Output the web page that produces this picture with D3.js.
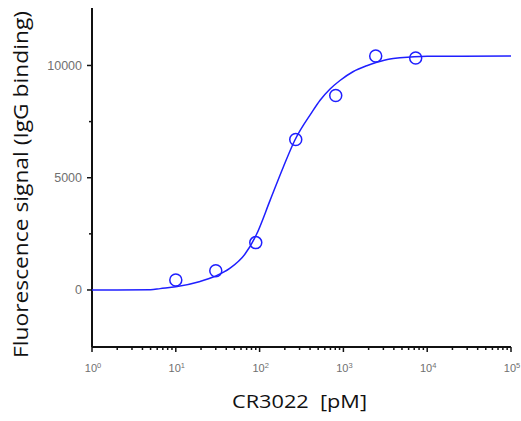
<!DOCTYPE html>
<html>
<head>
<meta charset="utf-8">
<script src="https://cdn.jsdelivr.net/npm/d3@7"></script>
<style>
  body { margin: 0; background: #fff; }
  .tick-label { font-family: "Liberation Sans", Arial, sans-serif; fill: #707070; }
  .axis-title { font-family: "Open Sans", sans-serif; fill: #111; white-space: pre; }
</style>
</head>
<body>
<div id="chart"></div>
<script>
// Measured points (concentration in pM, signal)
const concentrations = [10, 30, 90, 270, 810, 2430, 7290];
const signals = [445, 860, 2110, 6700, 8660, 10420, 10330];

// Fitted curve
const curveX = [1, 5, 6.5, 10, 19, 29, 44, 67, 92, 133, 192, 264, 418, 527, 693, 910, 1300, 1900, 2500, 3600, 4730, 7000, 10000, 100000];
const curveY = [0, 10, 60, 140, 370, 600, 960, 1600, 2480, 3980, 5480, 6680, 7900, 8450, 8950, 9330, 9720, 9990, 10140, 10290, 10340, 10390, 10410, 10420];

const xDecades = [0, 1, 2, 3, 4, 5];
const yMajorTicks = [0, 5000, 10000];
const yMinorTicks = [2500, 7500];

const W = 521, H = 421;
const plot = {left: 92, right: 511, top: 8, bottom: 347};
const blue = "#1f1fff";

const svg = d3.select("#chart").append("svg")
  .attr("width", W)
  .attr("height", H);

// Scales
const x = d3.scaleLog()
  .domain([1, 100000])
  .range([plot.left, plot.right]);

const y = d3.scaleLinear()
  .domain([-2540, 12560])
  .range([plot.bottom, plot.top]);

// Minor x ticks (2..9 in each decade)
const xMinor = [];
xDecades.slice(0, -1).forEach(d => {
  for (let k = 2; k <= 9; k++) xMinor.push(k * Math.pow(10, d));
});

// X axis
const xAxis = svg.append("g").attr("transform", `translate(0,${plot.bottom})`);
xAxis.append("line")
  .attr("x1", plot.left).attr("x2", plot.right)
  .attr("stroke", "#111").attr("stroke-width", 2);
xAxis.selectAll(".minor")
  .data(xMinor)
  .enter().append("line")
    .attr("x1", d => x(d)).attr("x2", d => x(d))
    .attr("y1", 0).attr("y2", 3)
    .attr("stroke", "#111").attr("stroke-width", 1.5);
xAxis.selectAll(".major")
  .data(xDecades)
  .enter().append("line")
    .attr("x1", d => x(Math.pow(10, d))).attr("x2", d => x(Math.pow(10, d)))
    .attr("y1", 0).attr("y2", 5)
    .attr("stroke", "#111").attr("stroke-width", 1.5);
const xLabels = xAxis.selectAll(".xl")
  .data(xDecades)
  .enter().append("text")
    .attr("class", "tick-label")
    .attr("x", d => x(Math.pow(10, d)) + 1)
    .attr("y", 25)
    .attr("text-anchor", "middle")
    .style("font-size", "11px");
xLabels.append("tspan").text("10");
xLabels.append("tspan")
  .attr("dy", -4)
  .style("font-size", "7.5px")
  .text(d => d);

// Y axis
const yAxis = svg.append("g").attr("transform", `translate(${plot.left},0)`);
yAxis.append("line")
  .attr("y1", plot.top).attr("y2", plot.bottom)
  .attr("stroke", "#111").attr("stroke-width", 2);
yAxis.selectAll(".ymaj")
  .data(yMajorTicks)
  .enter().append("line")
    .attr("x1", -5).attr("x2", 0)
    .attr("y1", d => y(d)).attr("y2", d => y(d))
    .attr("stroke", "#111").attr("stroke-width", 1.5);
yAxis.selectAll(".ymin")
  .data(yMinorTicks)
  .enter().append("line")
    .attr("x1", -3).attr("x2", 0)
    .attr("y1", d => y(d)).attr("y2", d => y(d))
    .attr("stroke", "#111").attr("stroke-width", 1.5);
yAxis.selectAll(".yl")
  .data(yMajorTicks)
  .enter().append("text")
    .attr("class", "tick-label")
    .attr("x", -10)
    .attr("y", d => y(d))
    .attr("dy", "0.36em")
    .attr("text-anchor", "end")
    .style("font-size", "12.5px")
    .text(d => d);

// Fitted curve
const line = d3.line()
  .x((d, i) => x(curveX[i]))
  .y(d => y(d))
  .curve(d3.curveMonotoneX);

svg.append("path")
  .datum(curveY)
  .attr("d", line)
  .attr("fill", "none")
  .attr("stroke", blue)
  .attr("stroke-width", 1.5);

// Data points
svg.selectAll(".pt")
  .data(concentrations)
  .enter().append("circle")
    .attr("cx", d => x(d))
    .attr("cy", (d, i) => y(signals[i]))
    .attr("r", 6)
    .attr("fill", "none")
    .attr("stroke", blue)
    .attr("stroke-width", 1.5);

// Axis titles
svg.append("text")
  .attr("class", "axis-title")
  .attr("x", 232)
  .attr("y", 408)
  .attr("textLength", 135)
  .attr("lengthAdjust", "spacingAndGlyphs")
  .style("font-size", "19px")
  .text("CR3022  [pM]");

svg.append("text")
  .attr("class", "axis-title")
  .attr("transform", "translate(28,358) rotate(-90)")
  .attr("textLength", 347)
  .attr("lengthAdjust", "spacingAndGlyphs")
  .style("font-size", "19.5px")
  .text("Fluorescence signal (IgG binding)");
</script>
</body>
</html>
